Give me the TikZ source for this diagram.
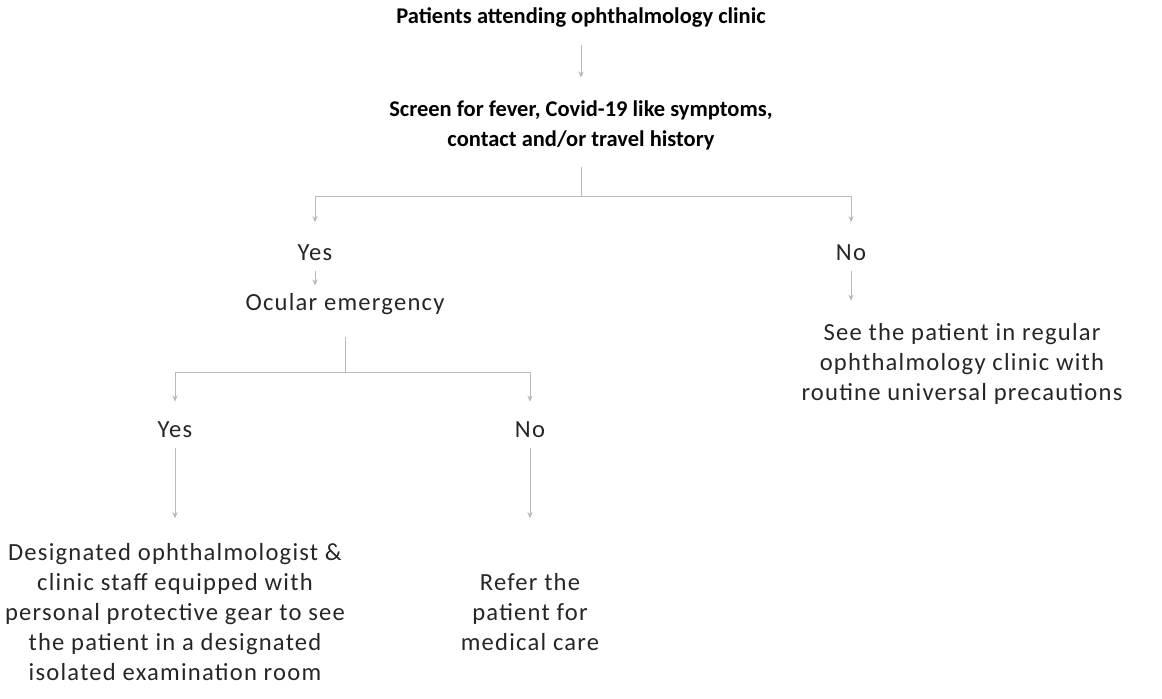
\documentclass[tikz,border=0pt]{standalone}
\usepackage{fontspec}
\setmainfont{Carlito}
\newfontfamily\bodyfont[LetterSpace=5]{Carlito}
\usetikzlibrary{arrows.meta}
\tikzset{
  txt/.style={align=center, inner sep=0pt, text=black!85, font=\bodyfont\fontsize{14}{17}\selectfont},
  head/.style={align=center, inner sep=0pt, font=\fontsize{12.8}{17}\selectfont\bfseries},
  link/.style={draw=gray!55, line width=0.5pt, -{Stealth[length=3.5pt,width=3pt]}},
}
\begin{document}
\begin{tikzpicture}[line join=round, line cap=round]
\useasboundingbox (0,0) rectangle (23.24,-13.98);
% top part
\node[head] (patients) at (11.62,-0.36) {Patients attending ophthalmology clinic};
\node[head] (screen) at (11.62,-2.5) {Screen for fever, Covid-19 like symptoms,\\contact and/or travel history};
\coordinate (splitA) at (11.62,-3.92);
\node[txt] (yesA) at (6.3,-5.06) {Yes};
\node[txt] (noA) at (17.02,-5.06) {No};
\node[txt] (see) at (19.24,-7.28) {See the patient in regular\\ophthalmology clinic with\\routine universal precautions};
% ocular branch
\node[txt] (ocular) at (6.9,-6.08) {Ocular emergency};
\coordinate (splitB) at (6.9,-7.45);
\node[txt] (yesB) at (3.5,-8.6) {Yes};
\node[txt] (noB) at (10.6,-8.6) {No};
\node[txt] (desig) at (3.5,-12.24) {Designated ophthalmologist \&\\clinic staff equipped with\\personal protective gear to see\\the patient in a designated\\isolated examination room};
\node[txt] (refer) at (10.6,-12.24) {Refer the\\patient for\\medical care};
% connectors
\draw[link, shorten <=0.35cm, shorten >=0.45cm] (patients) -- (screen);
\draw[draw=gray!55, line width=0.5pt, shorten <=0.35cm] (screen) -- (splitA);
\draw[link, shorten >=0.45cm] (splitA) -| (yesA);
\draw[link, shorten >=0.45cm] (splitA) -| (noA);
\draw[link, shorten <=0.2cm, shorten >=0.15cm] (yesA) -- (yesA |- ocular.north);
\draw[link, shorten <=0.2cm, shorten >=0.45cm] (noA) -- (noA |- see.north);
\draw[draw=gray!55, line width=0.5pt, shorten <=0.45cm] (ocular) -- (splitB);
\draw[link, shorten >=0.4cm] (splitB) -| (yesB);
\draw[link, shorten >=0.4cm] (splitB) -| (noB);
\draw[link, shorten <=0.2cm, shorten >=0.5cm] (yesB) -- (desig);
\draw[link, shorten <=0.2cm, shorten >=0.5cm] (noB) -- (noB |- desig.north);
\end{tikzpicture}
\end{document}
